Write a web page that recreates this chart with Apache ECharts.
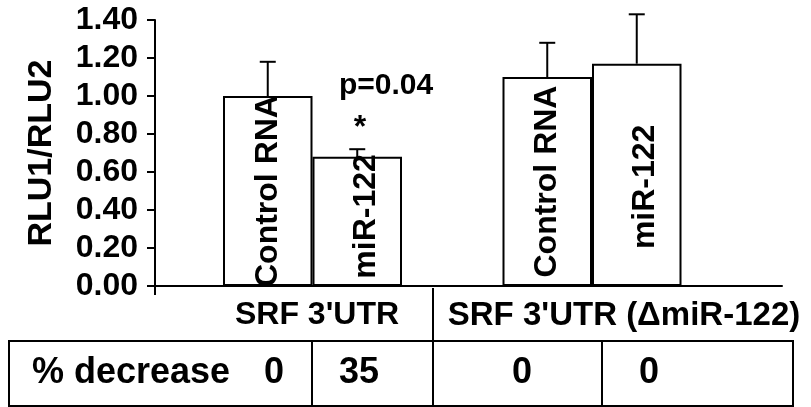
<!DOCTYPE html>
<html><head><meta charset="utf-8">
<script src="https://cdn.jsdelivr.net/npm/echarts@6/dist/echarts.min.js"></script>
<style>html,body{margin:0;padding:0;background:#fff}#c{width:811px;height:407px}</style>
</head><body><div id="c"></div>
<script>
const categories = ["SRF 3'UTR", "SRF 3'UTR (\u0394miR-122)"];
const seriesNames = ['Control RNA', 'miR-122'];
const controlValues = [1.00, 1.10];
const mirValues = [0.68, 1.17];
const controlErr = [0.18, 0.18];
const mirErr = [0.04, 0.26];
const yAxisName = 'RLU1/RLU2';
const tableTitle = '% decrease';
const decreaseValues = ['0', '35', '0', '0'];
const pValueText = 'p=0.04';
const sigMark = '*';

const FONT = '"Liberation Sans", Arial, sans-serif';
const BAR_W = 89.5;
const chart = echarts.init(document.getElementById('c'), null, {renderer: 'canvas'});

function errRender(sign) {
  return function (params, api) {
    const base = api.coord([api.value(0), api.value(1)]);
    const top = api.coord([api.value(0), api.value(1) + api.value(2)]);
    const cx = base[0] + sign * BAR_W / 2;
    const st = {stroke: '#000', lineWidth: 2};
    return {type: 'group', children: [
      {type: 'line', shape: {x1: cx, y1: base[1], x2: cx, y2: top[1]}, style: st},
      {type: 'line', shape: {x1: cx - 8, y1: top[1], x2: cx + 8, y2: top[1]}, style: st}
    ]};
  };
}

const txt = (text, x, y, size, align) => ({
  type: 'text', x: x, y: y, z: 100,
  style: {text: text, font: 'bold ' + size + 'px ' + FONT, fill: '#000', align: align || 'center', verticalAlign: 'middle'}
});
const ln = (x1, y1, x2, y2) => ({type: 'line', z: 100, shape: {x1, y1, x2, y2}, style: {stroke: '#000', lineWidth: 2}});

const cellCenters = [274, 359, 522, 649];
// label nudges (style only): along-text shift, across-text shift
const mirLabelNudge = [[5, 9], [-12, 8]];

chart.setOption({
  backgroundColor: '#fff',
  animation: false,
  grid: [
    {left: 172.75, right: 79.25, top: 20, bottom: 121},
    {left: 155, right: 29, top: 20, bottom: 121}
  ],
  xAxis: [
    {type: 'category', gridIndex: 0, data: categories,
     axisLine: {show: false}, axisTick: {show: false},
     axisLabel: {interval: 0, margin: 13, color: '#000',
       formatter: (v, i) => i === 0 ? '{a|' + v + '}' : '{b|' + v + '}',
       rich: {
         a: {fontFamily: FONT, fontWeight: 'bold', fontSize: 32, color: '#000', padding: [0, 0, 0, 9]},
         b: {fontFamily: FONT, fontWeight: 'bold', fontSize: 33, color: '#000', padding: [0, 0, 0, 64]}
       }}},
    {type: 'value', gridIndex: 1, min: 0, max: 1,
     axisLine: {show: true, lineStyle: {color: '#000', width: 2}},
     axisTick: {show: false}, axisLabel: {show: false}, splitLine: {show: false}}
  ],
  yAxis: [
    {type: 'value', gridIndex: 0, min: 0, max: 1.4, interval: 0.2, offset: 17.75,
     name: yAxisName, nameLocation: 'middle', nameRotate: 90, nameGap: 96,
     nameTextStyle: {fontFamily: FONT, fontWeight: 'bold', fontSize: 34, color: '#000'},
     axisLine: {show: true, lineStyle: {color: '#000', width: 2}},
     axisTick: {show: true, length: 8, lineStyle: {color: '#000', width: 2}},
     axisLabel: {formatter: v => v.toFixed(2), margin: 17, fontFamily: FONT, fontWeight: 'bold', fontSize: 32, color: '#000'},
     splitLine: {show: false}},
    {type: 'value', gridIndex: 1, min: 0, max: 1, show: false}
  ],
  series: [
    {type: 'bar', name: seriesNames[0], data: controlValues, barWidth: BAR_W, barGap: '0%',
     itemStyle: {color: '#fff', borderColor: '#000', borderWidth: 2},
     label: {show: true, position: 'inside', rotate: 90, formatter: seriesNames[0],
       fontFamily: FONT, fontWeight: 'bold', fontSize: 32, color: '#000'}},
    {type: 'bar', name: seriesNames[1], barWidth: BAR_W, barGap: '0%',
     data: mirValues.map((v, i) => ({value: v, label: {offset: mirLabelNudge[i]}})),
     itemStyle: {color: '#fff', borderColor: '#000', borderWidth: 2},
     label: {show: true, position: 'inside', rotate: 90, formatter: seriesNames[1],
       fontFamily: FONT, fontWeight: 'bold', fontSize: 32, color: '#000'}},
    {type: 'custom', renderItem: errRender(-1), clip: false, z: 10,
     encode: {x: 0, y: 1}, data: controlValues.map((v, i) => [i, v, controlErr[i]])},
    {type: 'custom', renderItem: errRender(1), clip: false, z: 10,
     encode: {x: 0, y: 1}, data: mirValues.map((v, i) => [i, v, mirErr[i]])}
  ],
  graphic: [
    txt(pValueText, 386, 86, 30),
    txt(sigMark, 360, 128, 32),
    ln(155, 286, 155, 295),
    ln(433, 288, 433, 406),
    {type: 'rect', z: 100, shape: {x: 9, y: 341, width: 784, height: 65}, style: {fill: 'none', stroke: '#000', lineWidth: 2}},
    ln(312, 341, 312, 406),
    ln(602, 341, 602, 406),
    txt(tableTitle, 32, 373, 36, 'left'),
    ...decreaseValues.map((d, i) => txt(d, cellCenters[i], 373, 36))
  ]
});
</script></body></html>
